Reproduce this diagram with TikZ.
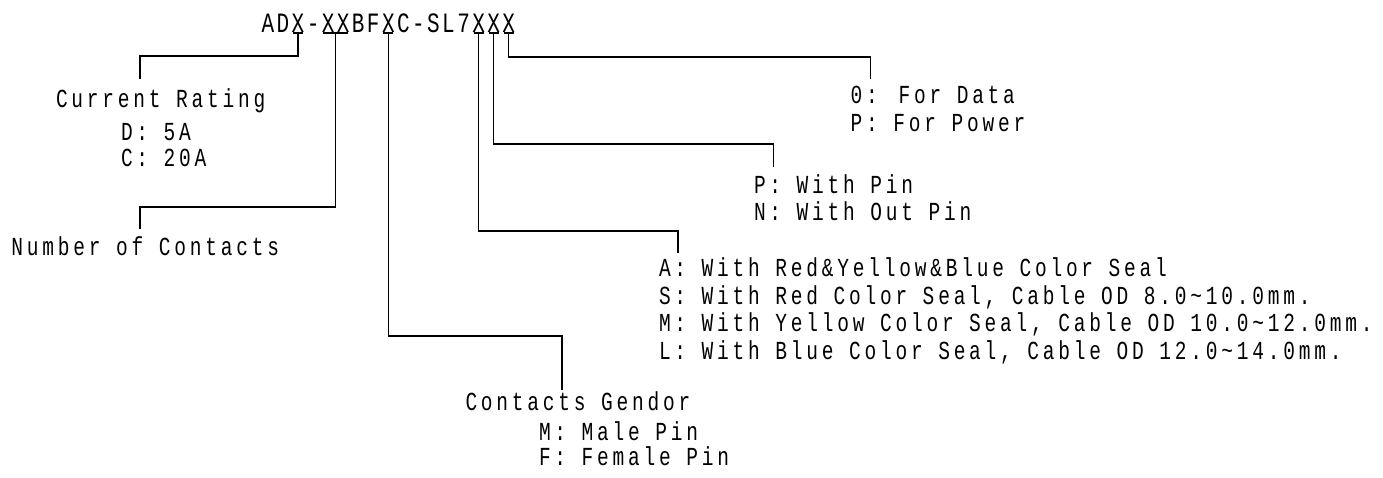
\documentclass[tikz,border=0pt]{standalone}
\usepackage{fontspec}
\usepackage{tikz}
\usetikzlibrary{positioning, calc}
\newfontfamily\cadfont{Liberation Mono}[FakeStretch=0.75, LetterSpace=14.6]
\newfontfamily\pnfont{Liberation Mono}[FakeStretch=0.75]

\tikzset{
  cadtext/.style={font=\cadfont\fontsize{26}{30}\selectfont, anchor=base west, inner sep=0pt, outer sep=0pt},
  pnchar/.style={font=\pnfont\fontsize{28}{32}\selectfont, anchor=base, inner sep=0pt, outer sep=0pt},
  lead/.style={line width=1.1pt},
  pnmark/.style={line width=1.1pt}
}

\begin{document}
\begin{tikzpicture}[x=1pt,y=-1pt]
    \useasboundingbox (0,0) rectangle (1383,477);

    % part number, one node per character
    \foreach \c [count=\i] in {A,D,X,-,X,X,B,F,X,C,-,S,L,7,X,X,X}
        \node[pnchar] (p\i) at ({260.4+(\i-0.5)*15.05},32) {\c};
    \foreach \a/\b in {3/3,5/6,9/9,15/15,16/16,17/17}
        \draw[pnmark] ($(p\a.base)+(-5,1)$) -- ($(p\b.base)+(5,1)$);
    \coordinate (p56) at ($(p5.base)!0.5!(p6.base)+(0,1)$);

    % Current Rating
    \node[cadtext] (rate) at (56,107) {Current Rating};
    \node[cadtext] (rateD) at (121,140) {D: 5A};
    \node[cadtext] (rateC) at (121,166) {C: 20A};
    \coordinate (rateend) at (140,79);
    \draw[lead] ($(p3.base)+(0,1)$) |- ($(rateend)+(0,-23)$) -- (rateend);

    % Number of Contacts
    \node[cadtext] (cont) at (11.5,255) {Number of Contacts};
    \coordinate (contend) at (140,229);
    \draw[lead] (p56) |- ($(contend)+(0,-22)$) -- (contend);

    % Contacts Gendor
    \node[cadtext] (gend) at (465.5,410) {Contacts Gendor};
    \node[cadtext] (gendM) at (539,440) {M: Male Pin};
    \node[cadtext] (gendF) at (539,465) {F: Female Pin};
    \coordinate (gendend) at (562,390);
    \draw[lead] ($(p9.base)+(0,1)$) |- ($(gendend)+(0,-54)$) -- (gendend);

    % Seal
    \node[cadtext] (sealA) at (659,276.7) {A: With Red\&Yellow\&Blue Color Seal};
    \node[cadtext] (sealS) at (659,304) {S: With Red Color Seal, Cable OD 8.0\textasciitilde 10.0mm.};
    \node[cadtext] (sealM) at (659,331.5) {M: With Yellow Color Seal, Cable OD 10.0\textasciitilde 12.0mm.};
    \node[cadtext] (sealL) at (659,359) {L: With Blue Color Seal, Cable OD 12.0\textasciitilde 14.0mm.};
    \coordinate (sealend) at (678,253);
    \draw[lead] ($(p15.base)+(0,1)$) |- ($(sealend)+(0,-22)$) -- (sealend);

    % Pin
    \node[cadtext] (pinP) at (754,193.3) {P: With Pin};
    \node[cadtext] (pinN) at (754,220) {N: With Out Pin};
    \coordinate (pinend) at (773.5,166.7);
    \draw[lead] ($(p16.base)+(0,1)$) |- ($(pinend)+(0,-22.7)$) -- (pinend);

    % Data or Power
    \node[cadtext] (useD) at (850.7,103.3) {0: For Data};
    \node[cadtext] (useP) at (850.7,131.7) {P: For Power};
    \coordinate (useend) at (870.7,78.5);
    \draw[lead] ($(p17.base)+(0,1)$) |- ($(useend)+(0,-21.5)$) -- (useend);
\end{tikzpicture}
\end{document}
